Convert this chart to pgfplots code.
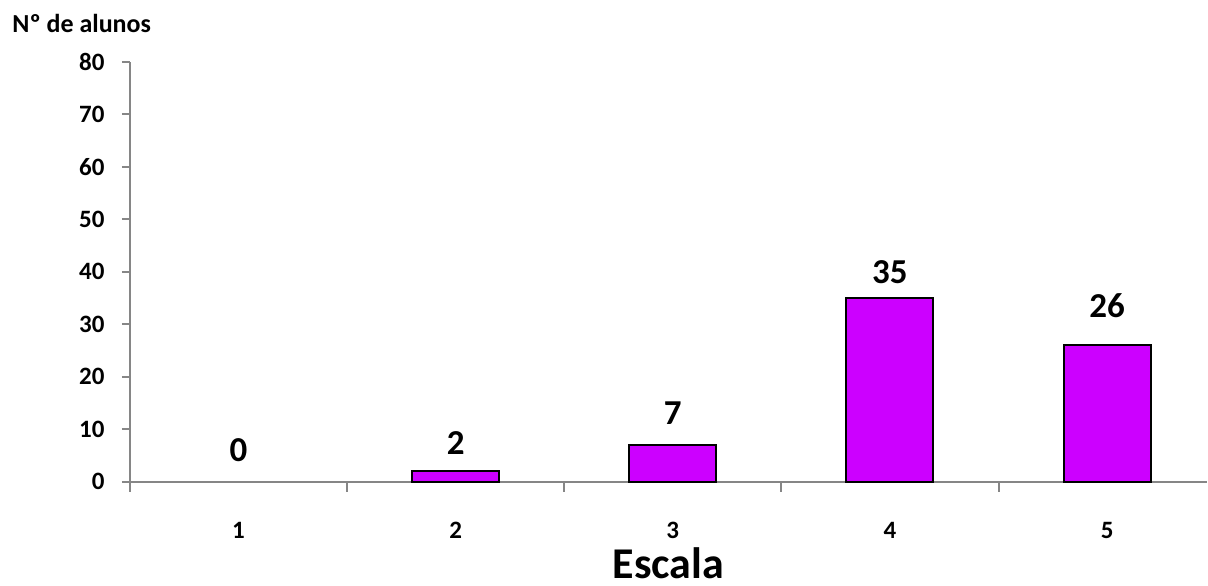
\documentclass[border=0pt]{standalone}
\usepackage{pgfplots}
\pgfplotsset{compat=1.18}
\usepackage{pgfplotstable}
\usepackage{fontspec}
\setmainfont{Carlito}
\definecolor{barviolet}{RGB}{204,0,255}
\definecolor{axisgray}{RGB}{134,134,134}

% x = category, y = number of students, off = label lift (pt)
\pgfplotstableread{
x y off
1 0 10
2 2 8.5
3 7 10
4 35 7.5
5 26 14
}\alunos

\newcommand\tickfont{\fontsize{12.5}{14}\selectfont\bfseries}

\begin{document}
\begin{tikzpicture}
\begin{axis}[
    scale only axis,
    width=539pt, height=210pt,
    xmin=0.5, xmax=5.46,
    ymin=0, ymax=80,
    ytick={0,10,...,80},
    xtick={1,2,3,4,5},
    xticklabels={{\tickfont 1},{\tickfont 2},{\tickfont 3},{\tickfont 4},{\tickfont 5}},
    minor xtick={0.5,1.5,2.5,3.5,4.5},
    axis x line=bottom, axis y line=left,
    axis line style={-, draw=axisgray, line width=1pt},
    tick style={draw=axisgray, line width=1pt},
    tick align=outside,
    major tick length=4pt,
    minor tick length=5pt,
    major x tick style={draw=none},
    /pgf/number format/assume math mode=true,
    yticklabel style={font=\tickfont, anchor=east, inner sep=0pt, xshift=-8.5pt},
    every x tick label/.append style={font=\tickfont, anchor=base, inner sep=0pt, yshift=-24.5pt},
    xlabel={Escala},
    xlabel style={font=\fontsize{22}{26}\selectfont\bfseries, inner sep=0pt,
                  at={(axis description cs:0.5,0)}, anchor=base, yshift=-48.5pt},
    ybar, bar width=43.5pt, bar shift=0pt,
    clip=false,
]
% bars (the empty category draws none)
\addplot[fill=barviolet, draw=black, line width=1pt,
         restrict y to domain=0.5:100] table[x=x, y=y] {\alunos};
% value labels
\addplot[draw=none, fill=none,
    nodes near coords,
    visualization depends on={\thisrow{off} \as \labeloff},
    every node near coord/.append style={font=\fontsize{17.5}{20}\selectfont\bfseries,
                  anchor=base, inner sep=0pt, yshift=\labeloff pt}]
    table[x=x, y=y] {\alunos};
\node[anchor=base west, inner sep=0pt, font=\fontsize{13}{15}\selectfont\bfseries]
    at (rel axis cs:0,1) [xshift=-59pt, yshift=14.5pt] {Nº de alunos};
\end{axis}
\path (-65pt,-52pt) rectangle (539pt,241pt);
\end{tikzpicture}
\end{document}
